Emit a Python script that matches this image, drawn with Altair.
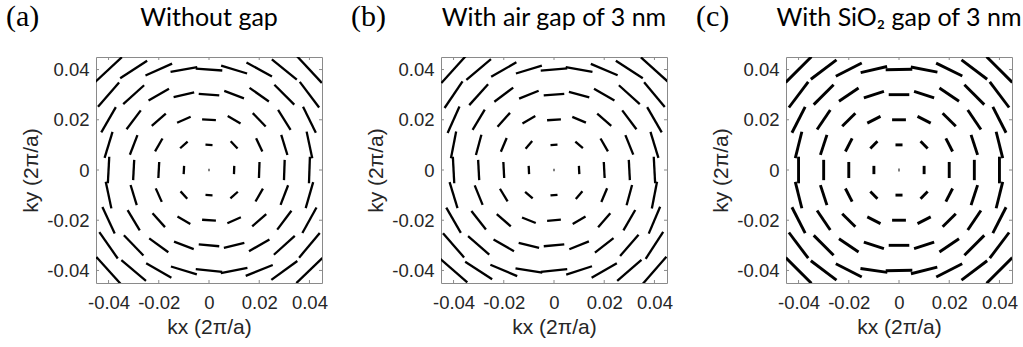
import math
import altair as alt
import pandas as pd

# grid of in-plane wavevectors (units of 2*pi/a)
KX = [-0.04, -0.03, -0.02, -0.01, 0.0, 0.01, 0.02, 0.03, 0.04]
KY = [0.04, 0.03, 0.02, 0.01, 0.0, -0.01, -0.02, -0.03, -0.04]
TICKS = [-0.04, -0.02, 0.0, 0.02, 0.04]

# polarization orientation (degrees, CCW from +kx); rows = KY, cols = KX
ANGLE_A = [
    [43, 33, 24, 10, -4, -17, -29, -39, -47],
    [49, 42, 30, 13, -4, -21, -35, -45, -53],
    [60, 53, 41, 24, -3, -30, -46, -58, -64],
    [73, 69, 60, 42, -3, -47, -65, -73, -78],
    [87, 87, 87, 87, 0, 88, 88, 88, 88],
    [-78, -73, -66, -48, -3, 42, 60, 69, 74],
    [-65, -59, -48, -30, -4, 24, 41, 53, 61],
    [-55, -46, -36, -21, -5, 14, 30, 42, 50],
    [-48, -40, -30, -17, -6, 11, 22, 36, 44],
]
ANGLE_B = [
    [48, 40, 30, 17, 5, -10, -23, -33, -42],
    [56, 48, 37, 22, 4, -15, -30, -42, -50],
    [66, 59, 48, 30, 4, -23, -41, -53, -60],
    [79, 75, 67, 49, 4, -41, -60, -68, -73],
    [-87, -87, -87, -87, 0, -87, -87, -87, -87],
    [-73, -68, -59, -41, 5, 49, 67, 75, 79],
    [-60, -52, -41, -22, 5, 30, 49, 60, 67],
    [-49, -41, -30, -14, 5, 22, 38, 49, 57],
    [-41, -33, -23, -9, 6, 18, 30, 41, 49],
]
ANGLE_C = [
    [45, 37, 27, 13, 1, -11, -26, -37, -45],
    [53, 45, 34, 18, 0, -18, -34, -45, -53],
    [63, 56, 45, 27, 0, -27, -45, -56, -63],
    [76, 72, 63, 45, 0, -45, -63, -72, -76],
    [90, 90, 90, 90, 0, 90, 90, 90, 90],
    [-76, -72, -63, -45, 0, 45, 63, 72, 76],
    [-63, -56, -45, -27, 0, 27, 45, 56, 63],
    [-53, -45, -34, -18, 0, 18, 34, 45, 53],
    [-45, -37, -27, -8, 1, 14, 27, 37, 45],
]
# segment length (units of 1e-3 * 2*pi/a); rows = KY, cols = KX
SEG_LEN = [
    [14.5, 12.8, 11.6, 10.8, 10.6, 10.8, 11.6, 12.8, 14.5],
    [12.8, 11.2, 9.4, 8.4, 8.2, 8.4, 9.4, 11.2, 12.8],
    [11.6, 9.4, 7.4, 5.9, 5.5, 5.9, 7.4, 9.4, 11.6],
    [10.8, 8.4, 5.9, 4.0, 2.8, 4.0, 5.9, 8.4, 10.8],
    [10.6, 8.1, 6.4, 3.3, 0.4, 3.3, 6.4, 8.1, 10.6],
    [10.8, 8.4, 5.9, 4.0, 2.8, 4.0, 5.9, 8.4, 10.8],
    [11.6, 9.4, 7.4, 5.9, 5.5, 5.9, 7.4, 9.4, 11.6],
    [12.8, 11.2, 9.4, 8.4, 8.2, 8.4, 9.4, 11.2, 12.8],
    [14.5, 12.8, 11.6, 10.8, 10.6, 10.8, 11.6, 12.8, 14.5],
]

PANELS = [
    ("(a)", "Without gap", ANGLE_A, 2.3),
    ("(b)", "With air gap of 3 nm", ANGLE_B, 2.3),
    ("(c)", "With SiO\u2082 gap of 3 nm", ANGLE_C, 2.9),
]

W = 226
FRAME = "#8a8a8a"
TXT = "#262626"
LABEL_EXPR = ("datum.value == 0 ? '0' : (datum.value < 0 ? '-' + format(-datum.value, '.2f')"
              " : format(datum.value, '.2f'))")

sx = alt.Scale(domain=[-0.045, 0.045], nice=False, zero=False)
sy = alt.Scale(domain=[-0.045, 0.045], nice=False, zero=False)


def axis(title, pad):
    return alt.Axis(values=TICKS, labelExpr=LABEL_EXPR, ticks=False, domain=False, grid=False,
                    labelFont="Liberation Sans", labelFontSize=18.5, labelColor=TXT,
                    labelPadding=pad, labelFlush=False, labelOverlap=False,
                    title=title, titleFont="Liberation Sans", titleFontSize=21,
                    titleFontWeight="normal", titleColor=TXT, titlePadding=5)


def X(field):
    return alt.X(field, type="quantitative", scale=sx, axis=axis("kx (2\u03c0/a)", 10))


def Y(field):
    return alt.Y(field, type="quantitative", scale=sy, axis=axis("ky (2\u03c0/a)", 7))


def panel(tag, title, angles, sw):
    rows = []
    for i, ky in enumerate(KY):
        for j, kx in enumerate(KX):
            L = SEG_LEN[i][j] * 1e-3
            th = math.radians(angles[i][j])
            dx, dy = 0.5 * L * math.cos(th), 0.5 * L * math.sin(th)
            rows.append({"x1": kx - dx, "x2": kx + dx, "y1": ky - dy, "y2": ky + dy})
    df = pd.DataFrame(rows)
    segs = alt.Chart(df).mark_rule(color="black", strokeWidth=sw, strokeCap="butt", clip=True).encode(
        x=X("x1"), x2="x2", y=Y("y1"), y2="y2")

    tdf = pd.DataFrame({"x1": TICKS, "y1": TICKS})
    tick_b = alt.Chart(tdf).mark_rule(color=FRAME, strokeWidth=1).encode(
        x=X("x1"), y=alt.value(W), y2=alt.value(W - 3))
    tick_t = alt.Chart(tdf).mark_rule(color=FRAME, strokeWidth=1).encode(
        x=X("x1"), y=alt.value(0), y2=alt.value(3))
    tick_l = alt.Chart(tdf).mark_rule(color=FRAME, strokeWidth=1).encode(
        y=Y("y1"), x=alt.value(0), x2=alt.value(3))
    tick_r = alt.Chart(tdf).mark_rule(color=FRAME, strokeWidth=1).encode(
        y=Y("y1"), x=alt.value(W), x2=alt.value(W - 3))

    tag_txt = alt.Chart(pd.DataFrame({"t": [tag]})).mark_text(
        font="Liberation Serif", fontSize=30, align="left", baseline="alphabetic", color="black"
    ).encode(x=alt.value(-90), y=alt.value(-31), text="t:N")
    ttl_txt = alt.Chart(pd.DataFrame({"t": [title]})).mark_text(
        font="Lato", fontSize=25, align="center", baseline="alphabetic", color="black"
    ).encode(x=alt.value(W / 2), y=alt.value(-31), text="t:N")

    return alt.layer(segs, tick_b, tick_t, tick_l, tick_r, tag_txt, ttl_txt).properties(
        width=W, height=W)


chart = alt.hconcat(*[panel(*p) for p in PANELS], spacing=119, bounds="flush").properties(
    padding={"left": 5, "top": 1, "right": 0, "bottom": 0}
).configure_view(stroke=FRAME, strokeWidth=1)

chart.save("out.html", embed_options={"renderer": "svg", "actions": False})
